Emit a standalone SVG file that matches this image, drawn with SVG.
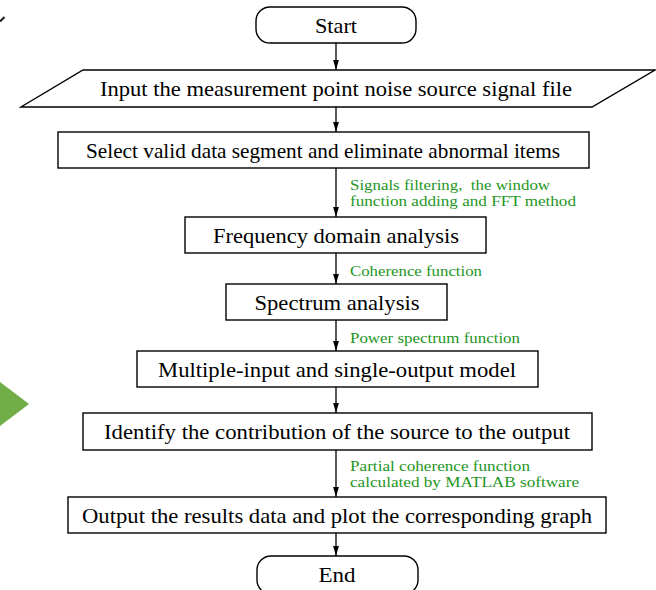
<svg xmlns="http://www.w3.org/2000/svg" width="656" height="590" viewBox="0 0 656 590">
<style>
.box{fill:#fff;stroke:#000;stroke-width:1.4}
.t{font-family:'Liberation Serif','Times New Roman',serif;font-size:22px;fill:#000;text-anchor:middle}
.g{font-family:'Liberation Serif','Times New Roman',serif;font-size:14.5px;fill:#1e961e}
.c{stroke:#000;stroke-width:1.3;fill:none}
</style>
<defs>
<marker id="ah" markerUnits="userSpaceOnUse" markerWidth="10" markerHeight="16" refX="14" refY="4" orient="auto" viewBox="0 0 14 8">
<path d="M0,0 L14,4 L0,8 Z" fill="#000"/>
</marker>
</defs>
<rect width="656" height="590" fill="#fff"/>
<polygon points="0,382 29,404 0,426" fill="#70ad47"/>
<line x1="0" y1="21.5" x2="4.5" y2="17" stroke="#222" stroke-width="2.2"/>
<g id="connectors">
<line class="c" x1="336" y1="43" x2="336" y2="70" marker-end="url(#ah)"/>
<line class="c" x1="336" y1="107" x2="336" y2="132" marker-end="url(#ah)"/>
<line class="c" x1="336" y1="168" x2="336" y2="217" marker-end="url(#ah)"/>
<line class="c" x1="336" y1="253" x2="336" y2="284" marker-end="url(#ah)"/>
<line class="c" x1="336" y1="320" x2="336" y2="351" marker-end="url(#ah)"/>
<line class="c" x1="336" y1="387" x2="336" y2="413" marker-end="url(#ah)"/>
<line class="c" x1="336" y1="450" x2="336" y2="497" marker-end="url(#ah)"/>
<line class="c" x1="336" y1="533" x2="336" y2="556" marker-end="url(#ah)"/>
<text class="g" x="350" y="189.5" textLength="200" lengthAdjust="spacingAndGlyphs">Signals filtering,&#160; the window</text>
<text class="g" x="350" y="205.5" textLength="226" lengthAdjust="spacingAndGlyphs">function adding and FFT method</text>
<text class="g" x="350" y="276" textLength="132" lengthAdjust="spacingAndGlyphs">Coherence function</text>
<text class="g" x="350" y="343" textLength="170" lengthAdjust="spacingAndGlyphs">Power spectrum function</text>
<text class="g" x="350" y="470.5" textLength="180" lengthAdjust="spacingAndGlyphs">Partial coherence function</text>
<text class="g" x="350" y="487" textLength="229" lengthAdjust="spacingAndGlyphs">calculated by MATLAB software</text>
</g>
<g id="start">
<rect class="box" x="256" y="7" width="160" height="36" rx="14" ry="14"/>
<text class="t" x="336" y="32.5" textLength="42" lengthAdjust="spacingAndGlyphs">Start</text>
</g>
<g id="input">
<polygon class="box" points="83,70 655,70 592,107 21,107"/>
<text class="t" x="336" y="96" textLength="472" lengthAdjust="spacingAndGlyphs">Input the measurement point noise source signal file</text>
</g>
<g id="select">
<rect class="box" x="58" y="132" width="531" height="36"/>
<text class="t" x="323" y="157.5" textLength="474" lengthAdjust="spacingAndGlyphs">Select valid data segment and eliminate abnormal items</text>
</g>
<g id="frequency">
<rect class="box" x="185" y="217" width="301" height="36"/>
<text class="t" x="336" y="243" textLength="246" lengthAdjust="spacingAndGlyphs">Frequency domain analysis</text>
</g>
<g id="spectrum">
<rect class="box" x="226" y="284" width="221" height="36"/>
<text class="t" x="337" y="309.5" textLength="165" lengthAdjust="spacingAndGlyphs">Spectrum analysis</text>
</g>
<g id="mimo">
<rect class="box" x="137" y="351" width="401" height="36"/>
<text class="t" x="337" y="376.5" textLength="358" lengthAdjust="spacingAndGlyphs">Multiple-input and single-output model</text>
</g>
<g id="identify">
<rect class="box" x="83" y="413" width="509" height="37"/>
<text class="t" x="337" y="439" textLength="466" lengthAdjust="spacingAndGlyphs">Identify the contribution of the source to the output</text>
</g>
<g id="output">
<rect class="box" x="68" y="497" width="538" height="36"/>
<text class="t" x="337" y="522.5" textLength="510" lengthAdjust="spacingAndGlyphs">Output the results data and plot the corresponding graph</text>
</g>
<g id="end">
<rect class="box" x="257" y="556" width="161" height="38" rx="14" ry="14"/>
<text class="t" x="337" y="581.5" textLength="37" lengthAdjust="spacingAndGlyphs">End</text>
</g>
</svg>
